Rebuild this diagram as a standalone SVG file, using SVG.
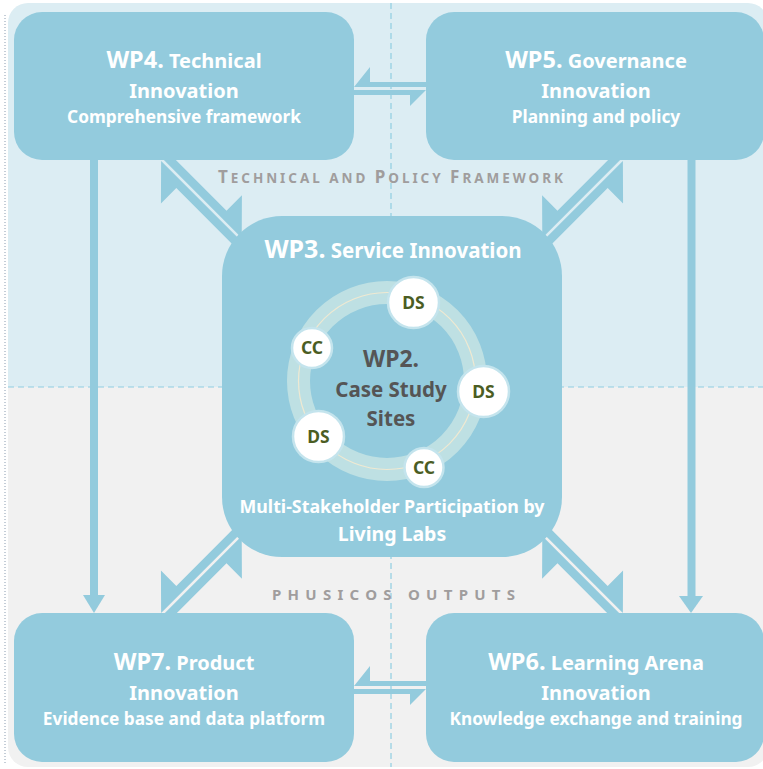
<svg xmlns="http://www.w3.org/2000/svg" xmlns:xlink="http://www.w3.org/1999/xlink" width="763" height="769" viewBox="0 0 763 769">
<style>
.box{fill:#93cbdd}
.arr{fill:#93cbdd}
.t{font-family:'Noto Sans','Open Sans',sans-serif;font-weight:bold;fill:#ffffff;text-anchor:middle}
.wp2{font-family:'Noto Sans','Open Sans',sans-serif;font-weight:bold;fill:#555555;text-anchor:middle}
.site{fill:#ffffff;stroke:#c4e4ed;stroke-width:2.5}
.st{font-family:'Noto Sans','Open Sans',sans-serif;font-weight:bold;fill:#4b5d23;text-anchor:middle;font-size:17.5px}
.lbl{font-family:'Noto Sans','Open Sans',sans-serif;font-weight:bold;fill:#a09d9d}
.dash{stroke:#8fcde2;stroke-width:1.2;stroke-dasharray:6 4;fill:none}
</style>
<defs>
<clipPath id="bgclip"><rect x="8" y="3" width="760" height="764" rx="20"/></clipPath>
<g id="diag">
<polygon points="0,-1.25 111.5,-1.25 81.5,-31.5 81.5,-9.75 0,-9.75" transform="translate(162,160) rotate(45)"/>
<polygon points="116,1.25 116,9.75 30,9.75 30,31.5 0,1.25" transform="translate(162,160) rotate(45)"/>
</g>
<g id="horiz">
<polygon points="354,87 370,67 370,82 430,82 430,87"/>
<polygon points="426,90 410,106 410,95 350,95 350,90"/>
</g>
</defs>
<g id="background">
<g clip-path="url(#bgclip)">
<rect x="0" y="0" width="763" height="387" fill="#dcedf3"/>
<rect x="0" y="387" width="763" height="382" fill="#f1f1f1"/>
</g>
<line x1="5" y1="15" x2="5" y2="765" stroke="#8a9cb0" stroke-width="1" stroke-dasharray="1 2"/>
<line class="dash" x1="8" y1="387" x2="763" y2="387"/>
<line class="dash" x1="391" y1="3" x2="391" y2="767"/>
</g>
<g id="connectors" class="arr">
<use xlink:href="#diag"/>
<use xlink:href="#diag" transform="translate(784,0) scale(-1,1)"/>
<use xlink:href="#diag" transform="translate(0,774) scale(1,-1)"/>
<use xlink:href="#diag" transform="translate(784,774) scale(-1,-1)"/>
<use xlink:href="#horiz"/>
<use xlink:href="#horiz" transform="translate(0,599)"/>
<rect x="90" y="150" width="8" height="447"/>
<polygon points="83,595 105,595 94,613"/>
<rect x="687.5" y="150" width="8" height="448"/>
<polygon points="679,596 703,596 691,613"/>
</g>
<g id="labels">
<text class="lbl" x="218" y="183" textLength="345" lengthAdjust="spacing"><tspan font-size="17">T</tspan><tspan font-size="13.5">ECHNICAL AND </tspan><tspan font-size="17">P</tspan><tspan font-size="13.5">OLICY </tspan><tspan font-size="17">F</tspan><tspan font-size="13.5">RAMEWORK</tspan></text>
<text class="lbl" x="272" y="600" font-size="15" textLength="243" lengthAdjust="spacing">PHUSICOS OUTPUTS</text>
</g>
<g id="wp4">
<rect class="box" x="14" y="12" width="340" height="148" rx="28"/>
<text class="t" x="184" y="68"><tspan font-size="23.5">WP4.</tspan><tspan font-size="20"> Technical</tspan></text>
<text class="t" x="184" y="98" font-size="20">Innovation</text>
<text class="t" x="184" y="123" font-size="17.3">Comprehensive framework</text>
</g>
<g id="wp5">
<rect class="box" x="426" y="12" width="338" height="148" rx="28"/>
<text class="t" x="596" y="68"><tspan font-size="23.5">WP5.</tspan><tspan font-size="20"> Governance</tspan></text>
<text class="t" x="596" y="98" font-size="20">Innovation</text>
<text class="t" x="596" y="123" font-size="17.3">Planning and policy</text>
</g>
<g id="wp7">
<rect class="box" x="14" y="613" width="340" height="149" rx="28"/>
<text class="t" x="184" y="670"><tspan font-size="23.5">WP7.</tspan><tspan font-size="20"> Product</tspan></text>
<text class="t" x="184" y="700" font-size="20">Innovation</text>
<text class="t" x="184" y="725" font-size="17.3">Evidence base and data platform</text>
</g>
<g id="wp6">
<rect class="box" x="426" y="613" width="338" height="149" rx="28"/>
<text class="t" x="596" y="670"><tspan font-size="23.5">WP6.</tspan><tspan font-size="20"> Learning Arena</tspan></text>
<text class="t" x="596" y="700" font-size="20">Innovation</text>
<text class="t" x="596" y="725" font-size="17.3">Knowledge exchange and training</text>
</g>
<g id="wp3">
<rect class="box" x="222" y="216" width="340" height="341" rx="60"/>
<text class="t" x="393" y="258"><tspan font-size="25">WP3.</tspan><tspan font-size="20.5"> Service Innovation</tspan></text>
<text class="t" x="392" y="513" font-size="17.8">Multi-Stakeholder Participation by</text>
<text class="t" x="392" y="541" font-size="19.5">Living Labs</text>
</g>
<g id="wp2">
<circle cx="387" cy="381" r="88.5" fill="none" stroke="#bee0e3" stroke-width="23"/>
<circle cx="387" cy="381" r="88.5" fill="none" stroke="#efe9d2" stroke-width="1.2"/>
<text class="wp2" x="391" y="367" font-size="23">WP2.</text>
<text class="wp2" x="391" y="397" font-size="20.5">Case Study</text>
<text class="wp2" x="391" y="426" font-size="20.5">Sites</text>
</g>
<g id="site-ds1"><circle class="site" cx="413.5" cy="302.5" r="25.5"/><text class="st" x="413.5" y="308.5">DS</text></g>
<g id="site-cc1"><circle class="site" cx="312" cy="348" r="20"/><text class="st" x="312" y="354">CC</text></g>
<g id="site-ds2"><circle class="site" cx="483.5" cy="391.5" r="25.5"/><text class="st" x="483.5" y="397.5">DS</text></g>
<g id="site-ds3"><circle class="site" cx="318.5" cy="436.5" r="25.5"/><text class="st" x="318.5" y="442.5">DS</text></g>
<g id="site-cc2"><circle class="site" cx="424" cy="467.5" r="19.5"/><text class="st" x="424" y="473.5">CC</text></g>
</svg>
